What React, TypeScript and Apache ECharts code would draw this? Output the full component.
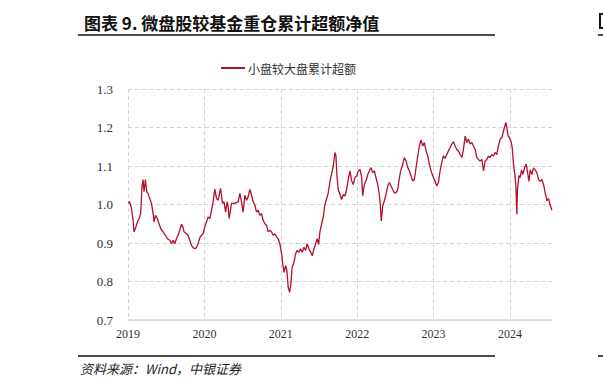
import React, { useEffect, useRef } from "react";
import * as echarts from "echarts";

const titleText = "图表 9. 微盘股较基金重仓累计超额净值";
const sourceText = "资料来源：Wind，中银证券";
const seriesName = "小盘较大盘累计超额";
const yTicks = [0.7, 0.8, 0.9, 1.0, 1.1, 1.2, 1.3];
const yearTicks = [2019, 2020, 2021, 2022, 2023, 2024];

const times = [
  2019.0, 2019.022, 2019.045, 2019.066, 2019.079, 2019.101, 2019.123, 2019.144, 2019.166, 2019.183,
  2019.197, 2019.21, 2019.228, 2019.245, 2019.262, 2019.284, 2019.307, 2019.328, 2019.341, 2019.359,
  2019.385, 2019.406, 2019.429, 2019.459, 2019.49, 2019.516, 2019.547, 2019.569, 2019.59, 2019.612,
  2019.634, 2019.655, 2019.678, 2019.7, 2019.721, 2019.734, 2019.765, 2019.786, 2019.809, 2019.831,
  2019.852, 2019.874, 2019.896, 2019.917, 2019.94, 2019.962, 2019.983, 2020.005, 2020.028, 2020.048,
  2020.071, 2020.093, 2020.114, 2020.136, 2020.159, 2020.18, 2020.211, 2020.237, 2020.258, 2020.277,
  2020.298, 2020.311, 2020.324, 2020.355, 2020.398, 2020.442, 2020.464, 2020.486, 2020.507, 2020.53,
  2020.552, 2020.573, 2020.595, 2020.617, 2020.638, 2020.661, 2020.683, 2020.704, 2020.726, 2020.748,
  2020.769, 2020.792, 2020.814, 2020.835, 2020.857, 2020.879, 2020.9, 2020.923, 2020.945, 2020.966,
  2020.988, 2021.011, 2021.031, 2021.045, 2021.063, 2021.08, 2021.097, 2021.115, 2021.132, 2021.149,
  2021.172, 2021.194, 2021.215, 2021.237, 2021.259, 2021.28, 2021.303, 2021.325, 2021.346, 2021.368,
  2021.391, 2021.412, 2021.434, 2021.456, 2021.477, 2021.495, 2021.512, 2021.535, 2021.556, 2021.578,
  2021.6, 2021.621, 2021.644, 2021.666, 2021.687, 2021.709, 2021.722, 2021.735, 2021.752, 2021.775,
  2021.797, 2021.818, 2021.84, 2021.862, 2021.883, 2021.906, 2021.928, 2021.949, 2021.971, 2021.993,
  2022.014, 2022.037, 2022.059, 2022.072, 2022.093, 2022.115, 2022.138, 2022.159, 2022.181, 2022.203,
  2022.224, 2022.246, 2022.269, 2022.29, 2022.303, 2022.316, 2022.334, 2022.355, 2022.377, 2022.4,
  2022.421, 2022.443, 2022.465, 2022.486, 2022.509, 2022.531, 2022.552, 2022.574, 2022.596, 2022.617,
  2022.64, 2022.662, 2022.683, 2022.705, 2022.727, 2022.748, 2022.771, 2022.793, 2022.814, 2022.836,
  2022.858, 2022.879, 2022.902, 2022.924, 2022.945, 2022.967, 2022.99, 2023.01, 2023.042, 2023.063,
  2023.085, 2023.107, 2023.128, 2023.151, 2023.173, 2023.194, 2023.216, 2023.239, 2023.26, 2023.282,
  2023.304, 2023.325, 2023.347, 2023.37, 2023.391, 2023.413, 2023.435, 2023.456, 2023.478, 2023.501,
  2023.522, 2023.544, 2023.566, 2023.587, 2023.609, 2023.632, 2023.653, 2023.675, 2023.697, 2023.718,
  2023.741, 2023.763, 2023.784, 2023.806, 2023.828, 2023.849, 2023.872, 2023.894, 2023.915, 2023.933,
  2023.946, 2023.959, 2023.976, 2023.993, 2024.012, 2024.029, 2024.046, 2024.064, 2024.077, 2024.09,
  2024.098, 2024.117, 2024.134, 2024.151, 2024.169, 2024.19, 2024.212, 2024.229, 2024.248, 2024.265,
  2024.287, 2024.308, 2024.33, 2024.353, 2024.374, 2024.396, 2024.418, 2024.439, 2024.461, 2024.484,
  2024.505, 2024.527, 2024.549,
];

const values = [
  1.003, 1.007, 0.99, 0.96, 0.929, 0.94, 0.955, 0.963, 0.977, 1.046,
  1.065, 1.033, 1.065, 1.033, 1.029, 1.016, 1.003, 0.977, 0.955, 0.972,
  0.963, 0.95, 0.937, 0.929, 0.92, 0.911, 0.907, 0.898, 0.907, 0.898,
  0.911, 0.92, 0.933, 0.949, 0.94, 0.929, 0.924, 0.92, 0.907, 0.894,
  0.888, 0.885, 0.888, 0.898, 0.914, 0.92, 0.924, 0.942, 0.955, 0.968,
  0.963, 0.985, 1.007, 1.04, 1.016, 1.011, 1.042, 1.003, 1.007, 0.98,
  1.007, 0.994, 0.963, 1.003, 1.003, 1.007, 1.029, 1.007, 0.98, 1.024,
  1.011, 1.02, 1.039, 1.024, 1.007, 0.998, 0.98, 0.985, 0.972, 0.976,
  0.959, 0.95, 0.946, 0.929, 0.933, 0.929, 0.92, 0.924, 0.916, 0.911,
  0.898, 0.872, 0.837, 0.824, 0.842, 0.829, 0.785, 0.772, 0.794, 0.837,
  0.85, 0.872, 0.881, 0.876, 0.885, 0.876, 0.889, 0.881, 0.898, 0.885,
  0.876, 0.867, 0.885, 0.898, 0.911, 0.896, 0.929, 0.95, 0.968, 1.0,
  1.015, 1.03, 1.06, 1.08, 1.1, 1.135, 1.126, 1.074, 1.039, 1.026,
  1.013, 1.026, 1.022, 1.039, 1.065, 1.087, 1.061, 1.052, 1.07, 1.074,
  1.087, 1.091, 1.07, 1.022, 1.052, 1.061, 1.078, 1.087, 1.096, 1.083,
  1.087, 1.07, 1.052, 1.026, 0.996, 0.957, 0.996, 1.009, 1.026, 1.048,
  1.057, 1.048, 1.039, 1.03, 1.03, 1.039, 1.07, 1.091, 1.104, 1.122,
  1.113, 1.096, 1.087, 1.074, 1.061, 1.065, 1.096, 1.126, 1.152, 1.168,
  1.152, 1.161, 1.139, 1.126, 1.104, 1.087, 1.074, 1.065, 1.048, 1.057,
  1.087, 1.109, 1.126, 1.12, 1.13, 1.139, 1.148, 1.157, 1.163, 1.152,
  1.143, 1.139, 1.13, 1.122, 1.143, 1.178, 1.161, 1.17, 1.157, 1.161,
  1.152, 1.143, 1.122, 1.117, 1.113, 1.117, 1.087, 1.113, 1.117, 1.126,
  1.122, 1.13, 1.126, 1.135, 1.13, 1.152, 1.17, 1.174, 1.191, 1.204,
  1.213, 1.2, 1.178, 1.174, 1.165, 1.148, 1.104, 1.078, 1.048, 0.975,
  1.039, 1.075, 1.07, 1.09, 1.078, 1.095, 1.105, 1.085, 1.06, 1.09,
  1.078, 1.095, 1.09, 1.082, 1.065, 1.06, 1.065, 1.052, 1.03, 1.01,
  1.015, 0.998, 0.985,
];

const xMin = 2019;
const xMax = 2024.55;

export default function App() {
  const ref = useRef<HTMLDivElement>(null);

  useEffect(() => {
    if (!ref.current) return;
    const chart = echarts.init(ref.current, null, { renderer: "svg" });
    const data = times.map((t, i) => [t, values[i]]);
    const serif = "'Liberation Serif', 'Times New Roman', serif";
    const cjk = "'Noto Sans CJK SC', sans-serif";
    chart.setOption({
      animation: false,
      backgroundColor: "#ffffff",
      title: {
        text: titleText,
        left: 79,
        top: 9,
        textStyle: {
          fontFamily: cjk,
          fontSize: 17,
          fontWeight: "bold",
          color: "#111111",
        },
      },
      legend: {
        left: 216,
        top: 57,
        itemWidth: 24,
        itemHeight: 2,
        itemGap: 10,
        icon: "rect",
        data: [seriesName],
        textStyle: {
          fontFamily: cjk,
          fontSize: 12,
          color: "#333333",
          padding: [0, 0, 0, -2],
        },
      },
      grid: {
        left: 128,
        right: 51,
        top: 89,
        bottom: 69,
        containLabel: false,
      },
      xAxis: {
        type: "value",
        min: xMin,
        max: xMax,
        interval: 1,
        axisLine: { show: true, lineStyle: { color: "#d9d9d9", width: 1.5 } },
        axisTick: { show: false },
        splitLine: {
          show: true,
          showMaxLine: false,
          lineStyle: { color: "#d3d3d3", type: [4, 3], width: 1 },
        },
        axisLabel: {
          showMaxLabel: false,
          margin: 8,
          fontFamily: serif,
          fontSize: 12,
          color: "#333333",
          formatter: (v: number) => (yearTicks.includes(Math.round(v)) && Math.abs(v - Math.round(v)) < 1e-6 ? String(Math.round(v)) : ""),
        },
      },
      yAxis: {
        type: "value",
        min: yTicks[0],
        max: yTicks[yTicks.length - 1],
        interval: 0.1,
        axisLine: { show: false },
        axisTick: { show: false },
        splitLine: {
          show: true,
          lineStyle: { color: "#d3d3d3", type: [4, 3], width: 1 },
        },
        axisLabel: {
          margin: 15,
          fontFamily: serif,
          fontSize: 13,
          color: "#333333",
          formatter: (v: number) => v.toFixed(1),
        },
      },
      series: [
        {
          name: seriesName,
          type: "line",
          data,
          symbol: "none",
          showSymbol: false,
          lineStyle: { color: "#b3102c", width: 1.3 },
          itemStyle: { color: "#b3102c" },
        },
      ],
      graphic: [
        { type: "line", shape: { x1: 78, y1: 35, x2: 495, y2: 35 }, style: { stroke: "#111111", lineWidth: 1.5 } },
        { type: "line", shape: { x1: 78, y1: 356, x2: 495, y2: 356 }, style: { stroke: "#111111", lineWidth: 1.5 } },
        { type: "line", shape: { x1: 598, y1: 35, x2: 606, y2: 35 }, style: { stroke: "#111111", lineWidth: 1.5 } },
        { type: "line", shape: { x1: 598, y1: 356, x2: 606, y2: 356 }, style: { stroke: "#111111", lineWidth: 1.5 } },
        { type: "polyline", shape: { points: [[604, 14], [600, 14], [600, 28], [604, 28]] }, style: { stroke: "#111111", lineWidth: 2, fill: "none" } },
        {
          type: "text",
          x: 80,
          y: 362,
          style: {
            text: sourceText,
            font: "italic 13px 'Noto Sans CJK SC'",
            fill: "#222222",
          },
        },
      ],
    });
    return () => chart.dispose();
  }, []);

  return (
    <div
      ref={ref}
      style={{ position: "absolute", left: 0, top: 0, width: 603, height: 389 }}
    />
  );
}
